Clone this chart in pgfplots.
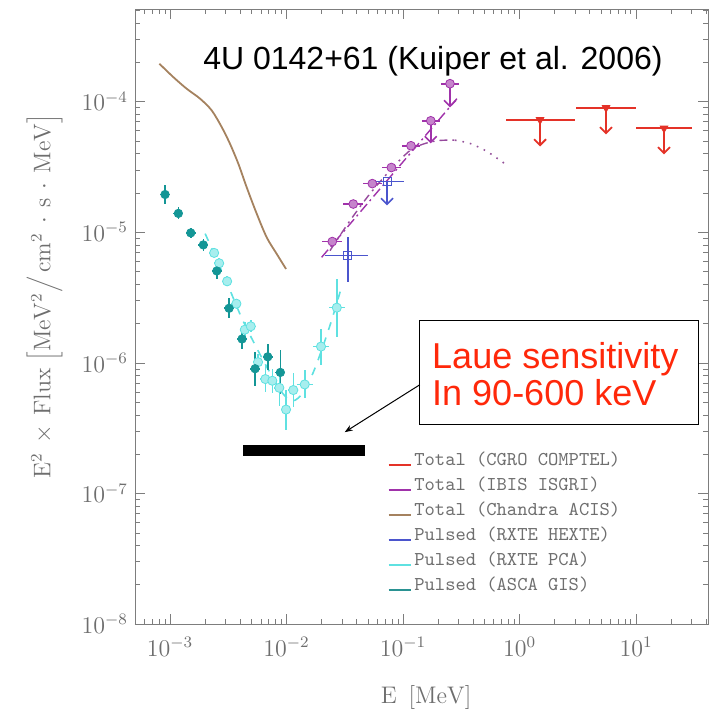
\documentclass[border=0pt]{standalone}
\usepackage{fontspec}
\usepackage{pgfplots}
\pgfplotsset{compat=1.18}
\usepackage{pgfplotstable}
\usetikzlibrary{arrows.meta}
\newfontfamily\arial{Liberation Sans}
\definecolor{cRed}{RGB}{228,50,40}
\definecolor{cPurple}{RGB}{160,50,170}
\definecolor{cBrown}{RGB}{165,130,95}
\definecolor{cBlue}{RGB}{75,85,205}
\definecolor{cCyan}{RGB}{95,225,225}
\definecolor{cTeal}{RGB}{20,150,150}
\definecolor{cGray}{RGB}{110,110,110}
\definecolor{cAxis}{RGB}{125,125,125}
\definecolor{cLaue}{RGB}{255,40,10}

% ASCA GIS (pulsed): relative errors
\pgfplotstableread{
x y exp exm eyp eym
9.06e-4 1.94e-5 0.104 0.094 0.172 0.147
1.178e-3 1.39e-5 0.104 0.094 0.112 0.101
1.506e-3 9.86e-6 0.104 0.094 0.092 0.084
1.93e-3 7.98e-6 0.104 0.094 0.112 0.101
2.52e-3 5.04e-6 0.104 0.094 0.152 0.132
3.21e-3 2.61e-6 0.104 0.094 0.193 0.162
4.15e-3 1.52e-6 0.104 0.094 0.193 0.162
5.37e-3 9.0e-7 0.104 0.094 0.350 0.259
6.9e-3 1.11e-6 0.104 0.094 0.258 0.205
8.85e-3 8.43e-7 0.104 0.094 0.474 0.322
}\asca

% RXTE PCA (pulsed)
\pgfplotstableread{
x y exp exm eyp eym
2.39e-3 6.93e-6 0.104 0.094 0.073 0.068
2.64e-3 5.77e-6 0.104 0.094 0.092 0.084
3.09e-3 4.20e-6 0.104 0.094 0.092 0.084
3.71e-3 2.83e-6 0.104 0.094 0.092 0.084
4.38e-3 1.79e-6 0.104 0.094 0.152 0.132
4.93e-3 1.90e-6 0.104 0.094 0.112 0.101
5.69e-3 1.01e-6 0.104 0.094 0.152 0.132
6.58e-3 7.5e-7 0.104 0.094 0.258 0.205
7.55e-3 7.28e-7 0.104 0.094 0.236 0.191
8.67e-3 6.43e-7 0.104 0.094 0.374 0.272
9.9e-3 4.38e-7 0.104 0.094 0.423 0.297
1.143e-2 6.18e-7 0.104 0.094 0.350 0.259
1.432e-2 6.82e-7 0.171 0.146 0.280 0.219
1.977e-2 1.33e-6 0.171 0.146 0.374 0.272
2.70e-2 2.64e-6 0.171 0.146 0.668 0.400
}\pca

% IBIS ISGRI (total)
\pgfplotstableread{
x y exp exm eyp eym
2.47e-2 8.46e-6 0.218 0.179 0.073 0.068
3.74e-2 1.64e-5 0.218 0.179 0.073 0.068
5.45e-2 2.35e-5 0.200 0.165 0.073 0.068
7.94e-2 3.12e-5 0.200 0.165 0.073 0.068
0.117 4.58e-5 0.200 0.165 0.073 0.068
0.173 7.11e-5 0.200 0.165 0 0
0.253 1.367e-4 0.200 0.165 0 0
}\isgri

% RXTE HEXTE (pulsed)
\pgfplotstableread{
x y exp exm eyp eym
3.35e-2 6.61e-6 0.504 0.361 0.380 0.377
7.29e-2 2.44e-5 0.399 0.237 0 0
}\hexte

% CGRO COMPTEL (total, upper limits)
\pgfplotstableread{
x y exp exm eyp eym
1.50 7.24e-5 0.993 0.492 0 0
5.53 8.95e-5 0.808 0.448 0 0
17.4 6.24e-5 0.730 0.420 0 0
}\comptel

\begin{document}
\begin{tikzpicture}
\begin{axis}[
  name=ax,
  scale only axis,
  width=286.5pt, height=307.5pt,
  xmode=log, ymode=log,
  xmin=5e-4, xmax=41.5,
  ymin=1e-8, ymax=5.1e-4,
  axis line style={cAxis},
  tick style={cAxis},
  major tick length=5pt, minor tick length=2.5pt,
  tick label style={font=\fontsize{11.5}{13}\selectfont, text=cGray},
  xticklabel style={yshift=-3pt},
  xlabel={$\mathrm{E}\ \,[\mathrm{MeV}]$},
  ylabel={$\mathrm{E^2}\,\times\,\mathrm{Flux}\;\Big[\mathrm{MeV^2}\Big/\,\mathrm{cm^2}\,\cdot\,\mathrm{s}\,\cdot\,\mathrm{MeV}\Big]$},
  label style={font=\fontsize{12}{14}\selectfont, text=cGray},
  xlabel style={at={(axis description cs:0.508,-0.12)}, anchor=center},
  ylabel style={at={(axis description cs:-0.158,0.533)}, anchor=center},
  legend style={at={(axis description cs:0.43,0.292)}, anchor=north west,
    draw=none, fill=none, font=\fontsize{9.8}{11}\ttfamily, text=cGray,
    row sep=0.5pt, nodes={inner sep=1.5pt, text height=7pt, text depth=2pt}},
  legend cell align=left,
  legend image code/.code={\draw[#1, line width=0.8pt] (0pt,-2pt) -- (11pt,-2pt);},
]

% Chandra ACIS total spectrum
\addplot[cBrown, line width=0.9pt, smooth, forget plot] coordinates {
(8.09e-4,1.945e-4) (1.067e-3,1.535e-4) (1.39e-3,1.25e-4) (1.81e-3,1.05e-4)
(2.28e-3,8.53e-5) (2.78e-3,6.35e-5) (3.27e-3,4.74e-5) (3.86e-3,3.33e-5)
(4.55e-3,2.2e-5) (5.55e-3,1.38e-5) (6.76e-3,9.1e-6) (8.24e-3,6.8e-6) (9.9e-3,5.22e-6)};

% PCA model (dashed)
\addplot[cCyan, line width=0.8pt, dash pattern=on 4pt off 4pt, smooth, forget plot] coordinates {
(2.0e-3,9.74e-6) (2.43e-3,6.61e-6) (3.15e-3,3.89e-6) (4.15e-3,2.17e-6) (5.58e-3,1.28e-6)
(7.22e-3,8.38e-7) (9.33e-3,5.78e-7) (1.137e-2,5.11e-7) (1.386e-2,5.89e-7) (1.69e-2,8.38e-7)
(2.02e-2,1.28e-6) (2.46e-2,2.17e-6) (2.99e-2,3.89e-6)};

% PCA points
\addplot[only marks, mark=*, mark size=2.3pt, mark options={draw=cCyan, fill=cCyan!55!white},
  forget plot,
  error bars/.cd, x dir=both, x explicit relative, y dir=both, y explicit relative,
  error bar style={cCyan, line width=0.8pt}, error mark=none]
  table[x=x, y=y, x error plus=exp, x error minus=exm, y error plus=eyp, y error minus=eym]{\pca};

% ASCA points
\addplot[only marks, mark=*, mark size=2.1pt, mark options={draw=cTeal, fill=cTeal},
  forget plot,
  error bars/.cd, x dir=both, x explicit relative, y dir=both, y explicit relative,
  error bar style={cTeal, line width=0.8pt}, error mark=none]
  table[x=x, y=y, x error plus=exp, x error minus=exm, y error plus=eyp, y error minus=eym]{\asca};

% ISGRI models
\addplot[cPurple, line width=0.7pt, dash pattern=on 5pt off 2pt on 1pt off 2pt, forget plot] coordinates {
(2.0e-2,6.41e-6) (0.29,1.05e-4)};
\addplot[cPurple!70!gray, line width=0.7pt, dash pattern=on 4pt off 2.5pt on 1pt off 2.5pt, smooth, forget plot] coordinates {
(2.36e-2,7.21e-6) (3.51e-2,1.225e-5) (5.21e-2,1.97e-5) (7.73e-2,2.96e-5) (0.115,4.22e-5)
(0.155,4.77e-5) (0.208,5.03e-5) (0.279,5.05e-5)};
\addplot[cPurple!60!gray, line width=0.8pt, dash pattern=on 0.8pt off 3pt, smooth, forget plot] coordinates {
(0.279,5.05e-5) (0.376,4.77e-5) (0.526,4.14e-5) (0.751,3.33e-5)};

% ISGRI points
\addplot[only marks, mark=*, mark size=2.2pt, mark options={draw=cPurple, fill=cPurple!60!white},
  forget plot,
  error bars/.cd, x dir=both, x explicit relative, y dir=both, y explicit relative,
  error bar style={cPurple, line width=0.8pt}, error mark=none]
  table[x=x, y=y, x error plus=exp, x error minus=exm, y error plus=eyp, y error minus=eym]{\isgri};
\addplot[cPurple, line width=0.8pt, -{Straight Barb[length=3pt,width=6pt]}, forget plot] coordinates {(0.173,7.11e-5) (0.173,4.77e-5)};
\addplot[cPurple, line width=0.8pt, -{Straight Barb[length=3pt,width=6pt]}, forget plot] coordinates {(0.253,1.367e-4) (0.253,9.0e-5)};

% HEXTE points
\addplot[only marks, mark=square, mark size=2pt, mark options={draw=cBlue, fill=white},
  forget plot,
  error bars/.cd, x dir=both, x explicit relative, y dir=both, y explicit relative,
  error bar style={cBlue, line width=0.8pt}, error mark=none]
  table[x=x, y=y, x error plus=exp, x error minus=exm, y error plus=eyp, y error minus=eym]{\hexte};
\addplot[cBlue, line width=0.8pt, -{Straight Barb[length=3pt,width=6pt]}, forget plot] coordinates {(7.29e-2,2.44e-5) (7.29e-2,1.60e-5)};

% COMPTEL upper limits
\addplot[only marks, mark=triangle*, mark size=2.2pt, mark options={draw=cRed, fill=cRed, rotate=180},
  forget plot,
  error bars/.cd, x dir=both, x explicit relative,
  error bar style={cRed, line width=0.9pt}, error mark=none]
  table[x=x, y=y, x error plus=exp, x error minus=exm]{\comptel};
\addplot[cRed, line width=0.9pt, -{Straight Barb[length=3pt,width=6pt]}, forget plot] coordinates {(1.50,7.24e-5) (1.50,4.52e-5)};
\addplot[cRed, line width=0.9pt, -{Straight Barb[length=3pt,width=6pt]}, forget plot] coordinates {(5.53,8.95e-5) (5.53,5.59e-5)};
\addplot[cRed, line width=0.9pt, -{Straight Barb[length=3pt,width=6pt]}, forget plot] coordinates {(17.4,6.24e-5) (17.4,3.93e-5)};

% Laue sensitivity bar
\addplot[black, line width=5.4pt, forget plot] coordinates {(4.24e-3,2.12e-7) (4.7e-2,2.12e-7)};

% annotations
\node[anchor=base, font=\arial\fontsize{16}{18}\selectfont, text=black] at (rel axis cs:0.520,0.901) {4U 0142+61 (Kuiper et al. 2006)};
\draw[black, line width=0.6pt, fill=white] (rel axis cs:0.497,0.325) rectangle (rel axis cs:0.984,0.494);
\node[anchor=base west, inner sep=0pt, font=\arial\fontsize{18}{20}\selectfont, text=cLaue] at (rel axis cs:0.518,0.416) {Laue sensitivity};
\node[anchor=base west, inner sep=0pt, font=\arial\fontsize{18}{20}\selectfont, text=cLaue] at (rel axis cs:0.518,0.356) {In 90-600 keV};
\draw[black, line width=0.5pt, -{Stealth[length=4pt,width=3pt]}] (rel axis cs:0.497,0.389) -- (rel axis cs:0.366,0.312);

% legend
\addlegendimage{cRed}\addlegendentry{Total (CGRO COMPTEL)}
\addlegendimage{cPurple}\addlegendentry{Total (IBIS ISGRI)}
\addlegendimage{cBrown}\addlegendentry{Total (Chandra ACIS)}
\addlegendimage{cBlue}\addlegendentry{Pulsed (RXTE HEXTE)}
\addlegendimage{cCyan}\addlegendentry{Pulsed (RXTE PCA)}
\addlegendimage{cTeal!80!gray}\addlegendentry{Pulsed (ASCA GIS)}
\end{axis}
\path (ax.south west) ++(-67.5pt,-43.5pt) coordinate (bl);
\path (ax.north east) ++(6pt,4.5pt) coordinate (tr);
\pgfresetboundingbox
\path (bl) rectangle (tr);
\end{tikzpicture}
\end{document}
